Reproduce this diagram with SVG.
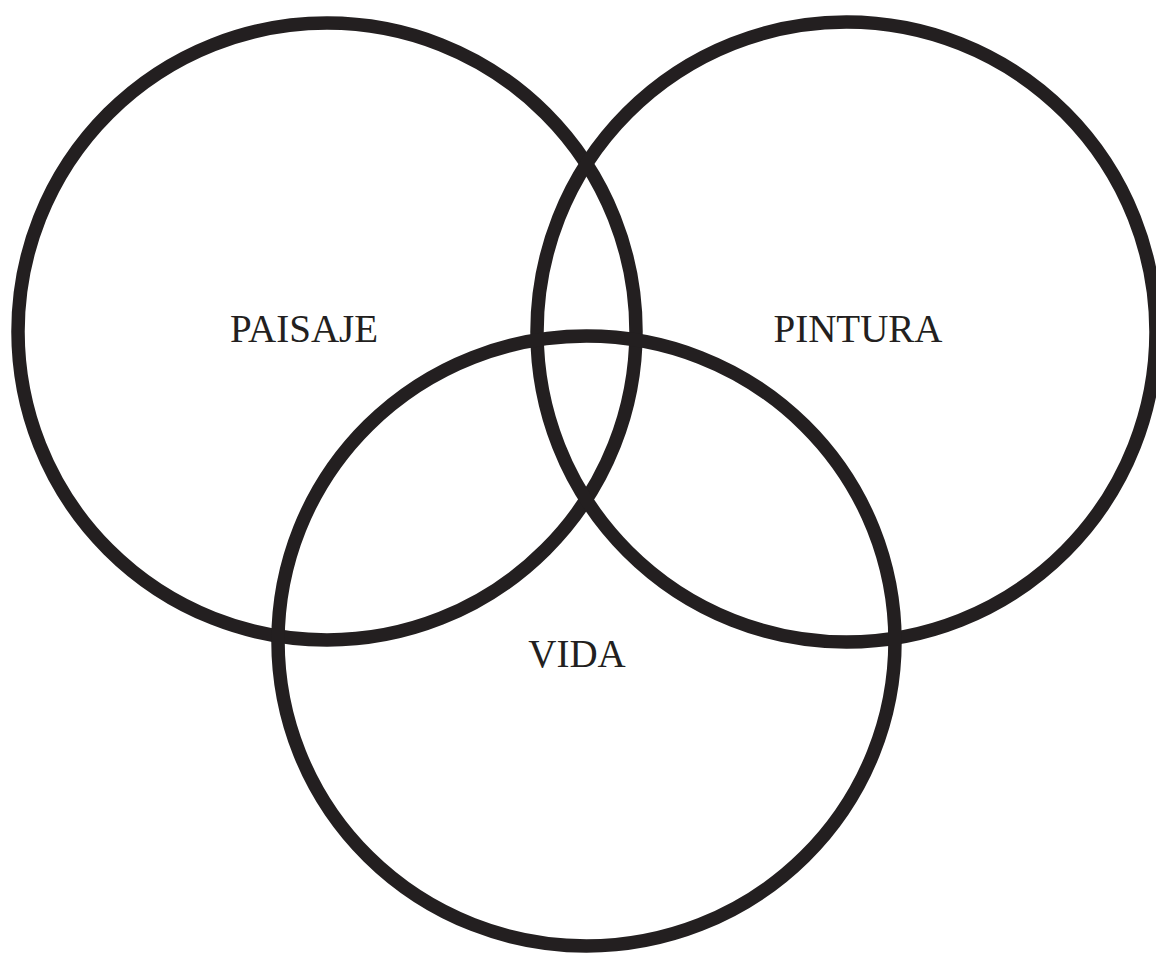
<svg xmlns="http://www.w3.org/2000/svg" width="1156" height="953" viewBox="0 0 1156 953">
<style>
.c{fill:none;stroke:#231f20;stroke-width:13.5}
.t{font-family:"Liberation Serif","Times New Roman",serif;font-size:39px;fill:#231f20;text-anchor:middle}
</style>
<rect width="1156" height="953" fill="#fff"/>
<g id="paisaje"><ellipse class="c" cx="327" cy="331.5" rx="309" ry="308.5"/><text class="t" x="304" y="342">PAISAJE</text></g>
<g id="pintura"><ellipse class="c" cx="846.5" cy="332" rx="309.5" ry="310"/><text class="t" x="858" y="342">PINTURA</text></g>
<g id="vida"><ellipse class="c" cx="586.5" cy="641" rx="308.5" ry="305"/><text class="t" x="577" y="667">VIDA</text></g>
<g id="connectors"/>
</svg>
